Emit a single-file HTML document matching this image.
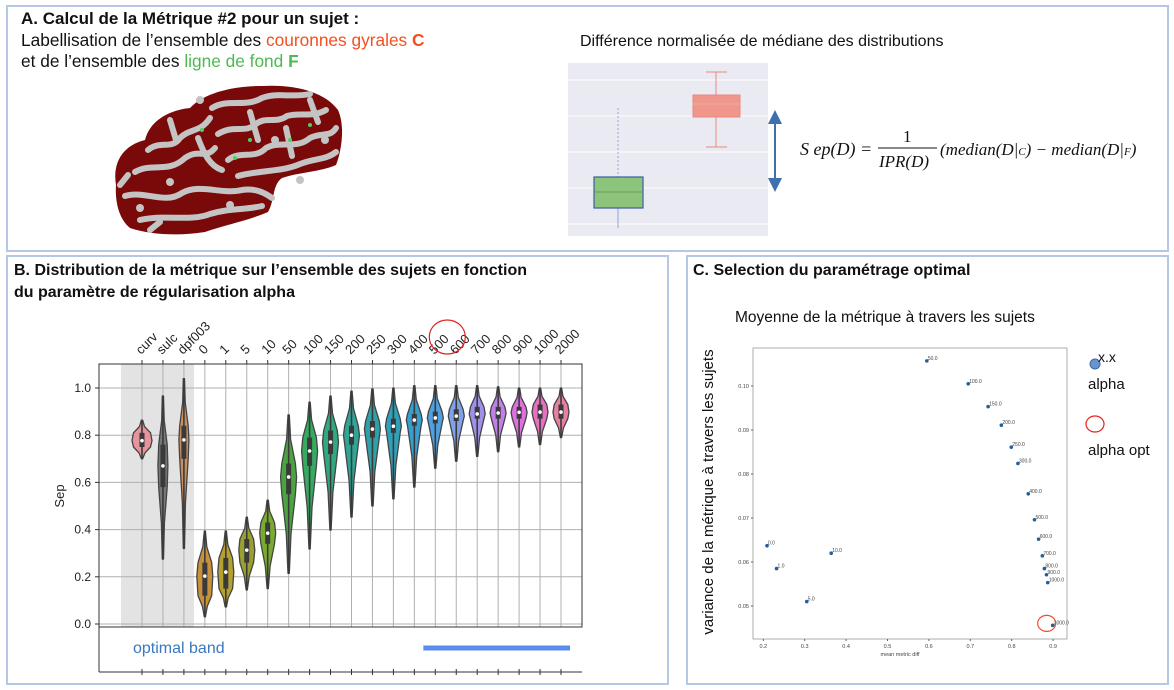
<!DOCTYPE html>
<html><head><meta charset="utf-8">
<style>
html,body{margin:0;padding:0;background:#fff;}
svg{display:block;font-family:"Liberation Sans",sans-serif;}
</style></head>
<body>
<svg id="fig" width="1174" height="690" viewBox="0 0 1174 690" xmlns="http://www.w3.org/2000/svg">
  <rect x="7" y="6" width="1161" height="245" fill="none" stroke="#b4c7e7" stroke-width="2"/>
  <rect x="7" y="256" width="661" height="428" fill="none" stroke="#b4c7e7" stroke-width="2"/>
  <rect x="687" y="256" width="481" height="428" fill="none" stroke="#b4c7e7" stroke-width="2"/>

  <text x="21" y="24" font-size="17" font-weight="bold" fill="#111">A. Calcul de la Métrique #2 pour un sujet :</text>
  <text x="21" y="46" font-size="17.3" fill="#111">Labellisation de l’ensemble des <tspan fill="#f4501e">couronnes gyrales </tspan><tspan fill="#f4501e" font-weight="bold">C</tspan></text>
  <text x="21" y="67" font-size="17.3" fill="#111">et de l’ensemble des <tspan fill="#4cba50">ligne de fond </tspan><tspan fill="#4cba50" font-weight="bold">F</tspan></text>

  <g>
    <path d="M116,185 C112,160 125,145 145,140 C150,120 170,110 190,108 C205,92 235,86 262,86 C295,84 325,92 338,110 C345,125 342,150 336,165 C320,172 300,172 282,178 C272,185 275,200 268,212 C250,220 225,225 205,232 C180,236 150,235 130,228 C118,218 115,200 116,185 Z" fill="#7a0a0a"/>
    <g stroke="#c4c4c4" stroke-width="6" fill="none" stroke-linecap="round">
      <path d="M148,150 C160,140 172,150 180,138 C190,128 200,133 210,118"/>
      <path d="M135,172 C152,162 168,174 185,158 C200,148 205,160 215,148"/>
      <path d="M125,196 C145,190 165,205 182,193 C200,183 222,195 242,190 C256,188 265,193 272,198"/>
      <path d="M140,220 C165,214 190,222 210,214 C230,208 245,210 262,206"/>
      <path d="M212,108 C228,98 245,108 262,98 C277,92 292,98 310,94"/>
      <path d="M218,134 C234,124 245,134 256,124 C266,116 276,124 287,116 C300,112 312,118 326,110"/>
      <path d="M228,160 C240,150 255,160 266,148 C281,140 296,150 310,138 C321,132 330,138 336,128"/>
      <path d="M238,176 C260,170 282,172 300,164 C315,158 326,160 336,152"/>
      <path d="M198,138 C204,154 210,166 222,170"/>
      <path d="M286,128 L292,156 M250,112 L258,140 M310,100 L318,122 M170,120 L176,140"/>
      <path d="M120,185 L128,175 M150,230 L160,222"/>
    </g>
    <g fill="#c4c4c4">
      <circle cx="140" cy="208" r="4"/><circle cx="170" cy="182" r="4"/><circle cx="230" cy="205" r="4"/><circle cx="300" cy="180" r="4"/><circle cx="325" cy="140" r="4"/><circle cx="200" cy="100" r="4"/><circle cx="275" cy="140" r="4"/>
    </g>
    <g fill="#4cd060">
      <circle cx="202" cy="130" r="2"/><circle cx="250" cy="140" r="2"/><circle cx="290" cy="140" r="2"/><circle cx="235" cy="158" r="2"/><circle cx="310" cy="125" r="2"/>
    </g>
  </g>

  <text x="580" y="46" font-size="16" fill="#111">Différence normalisée de médiane des distributions</text>
  <g>
    <rect x="568" y="63" width="200" height="173" fill="#eaeaf2"/>
    <g stroke="#ffffff" stroke-width="1">
      <line x1="568" y1="80" x2="768" y2="80"/><line x1="568" y1="116" x2="768" y2="116"/><line x1="568" y1="152" x2="768" y2="152"/><line x1="568" y1="188" x2="768" y2="188"/><line x1="568" y1="224" x2="768" y2="224"/>
    </g>
    <line x1="618" y1="108" x2="618" y2="177" stroke="#8fa8d8" stroke-dasharray="2,2"/>
    <line x1="618" y1="208" x2="618" y2="228" stroke="#8fa8d8"/>
    <rect x="594" y="177" width="49" height="31" fill="#8dc47c" stroke="#3a5fa0" stroke-width="1.2"/>
    <line x1="594" y1="192" x2="643" y2="192" stroke="#6a9a5c"/>
    <line x1="716" y1="72" x2="716" y2="95" stroke="#e88a80"/>
    <line x1="716" y1="117" x2="716" y2="147" stroke="#e88a80"/>
    <line x1="706" y1="72" x2="727" y2="72" stroke="#e88a80"/>
    <line x1="706" y1="147" x2="727" y2="147" stroke="#e88a80"/>
    <rect x="693" y="95" width="47" height="22" fill="#f0968a" stroke="#e88a80"/>
    <line x1="693" y1="104" x2="740" y2="104" stroke="#e8b0a0"/>
  </g>
  <g>
    <line x1="775" y1="122" x2="775" y2="180" stroke="#3e6fae" stroke-width="2"/>
    <polygon points="768,124 782,124 775,110" fill="#3e6fae"/>
    <polygon points="768,178 782,178 775,192" fill="#3e6fae"/>
  </g>
  <g font-family="Liberation Serif,serif" font-style="italic" fill="#111">
    <text x="800" y="155" font-size="18">S ep(D) =</text>
    <text x="903" y="142" font-size="17" font-style="normal">1</text>
    <line x1="878" y1="148" x2="937" y2="148" stroke="#111" stroke-width="1"/>
    <text x="879" y="167" font-size="17">IPR(D)</text>
    <text x="940" y="155" font-size="17">(median(D|<tspan font-size="11">C</tspan>) − median(D|<tspan font-size="11">F</tspan>)</text>
  </g>

  <text x="14" y="275" font-size="16" font-weight="bold" fill="#111">B. Distribution de la métrique sur l’ensemble des sujets en fonction</text>
  <text x="14" y="297" font-size="16" font-weight="bold" fill="#111">du paramètre de régularisation alpha</text>
  <g id="violinChart"></g>

  <text x="693" y="275" font-size="16" font-weight="bold" fill="#111">C. Selection du paramétrage optimal</text>
  <text x="735" y="322" font-size="15.5" fill="#111">Moyenne de la métrique à travers les sujets</text>
  <text transform="translate(713,492) rotate(-90)" text-anchor="middle" font-size="15" fill="#111">variance de la métrique à travers les sujets</text>
  <g id="scatterChart"></g>
  <g>
    <circle cx="1095" cy="364" r="5" fill="#6b93cf" stroke="#3d6aa8"/>
    <text x="1098" y="362" font-size="14" fill="#111">x.x</text>
    <text x="1088" y="389" font-size="15" fill="#111">alpha</text>
    <ellipse cx="1095" cy="424" rx="9" ry="8" fill="none" stroke="#e82020" stroke-width="1.2"/>
    <text x="1088" y="455" font-size="15" fill="#111">alpha opt</text>
  </g>
</svg>
<script>
const cats = ['curv','sulc','dpf003','0','1','5','10','50','100','150','200','250','300','400','500','600','700','800','900','1000','2000'];
const medians = [0.777,0.67,0.78,0.203,0.22,0.313,0.385,0.623,0.733,0.771,0.80,0.826,0.838,0.864,0.873,0.881,0.89,0.894,0.897,0.898,0.898];
const mins = [0.70,0.275,0.32,0.03,0.072,0.144,0.15,0.215,0.318,0.398,0.453,0.50,0.53,0.58,0.66,0.69,0.71,0.73,0.75,0.76,0.79];
const maxs = [0.864,0.966,1.04,0.394,0.394,0.453,0.525,0.886,0.94,0.966,0.987,0.996,1.0,1.01,1.01,1.01,1.01,1.005,1.0,1.0,1.0];
const q1s = [0.75,0.58,0.70,0.12,0.15,0.26,0.34,0.55,0.67,0.72,0.76,0.79,0.81,0.84,0.85,0.86,0.87,0.87,0.87,0.87,0.87];
const q3s = [0.81,0.76,0.84,0.26,0.28,0.36,0.43,0.68,0.79,0.82,0.84,0.86,0.87,0.89,0.90,0.91,0.92,0.92,0.92,0.93,0.93];
const vColors = ['#e8939c','#777777','#c89060','#c8913a','#b5a030','#9aa030','#7aab30','#4aa540','#35aa60','#30a880','#30a595','#30a0a8','#30a0b8','#35a0d0','#50a0e0','#80a0e8','#a090e8','#c080e8','#e070e0','#e870c0','#e880a0'];
const yTicks = [0.0,0.2,0.4,0.6,0.8,1.0];

const alphaLabels = ['0.0','1.0','5.0','10.0','50.0','100.0','150.0','200.0','250.0','300.0','400.0','500.0','600.0','700.0','800.0','900.0','1000.0','2000.0'];
const meanDiff = [0.209,0.232,0.305,0.364,0.595,0.695,0.743,0.775,0.799,0.815,0.840,0.855,0.865,0.874,0.879,0.884,0.887,0.899];
const varDiff = [0.0637,0.0585,0.0510,0.0620,0.1057,0.1005,0.0953,0.0911,0.0861,0.0824,0.0755,0.0696,0.0652,0.0614,0.0585,0.0571,0.0553,0.0456];
const sxTicks = [0.2,0.3,0.4,0.5,0.6,0.7,0.8,0.9];
const syTicks = [0.05,0.06,0.07,0.08,0.09,0.10];
const optIndex = 17;

const NS = 'http://www.w3.org/2000/svg';
function mk(parent, tag, attrs, text){
  const e = document.createElementNS(NS, tag);
  for (const k in attrs) e.setAttribute(k, attrs[k]);
  if (text !== undefined) e.textContent = text;
  parent.appendChild(e);
  return e;
}

(function(){
  const g = document.getElementById('violinChart');
  const L = 99, R = 582, T = 364, B = 627;
  const xc = i => 142 + i * 20.95;
  const yv = v => 624 - v * 236;

  let el = mk(g, 'rect', {x:121, y:T, width:73, height:B-T, fill:'#e3e3e3'});
  
  

  yTicks.forEach(t => {
    const y = yv(t);
    let ln = mk(g, 'line', {x1:L, x2:R, y1:y, y2:y, stroke:'#b0b0b0', 'stroke-width':1});
    
    
    mk(g, 'line', {x1:L-4, x2:L, y1:y, y2:y, stroke:'#333'});
    let tx = mk(g, 'text', {x:L-8, y:y+4, 'font-size':12, 'text-anchor':'end', fill:'#222'}, t.toFixed(1));
    
    
  });
  cats.forEach((c, i) => {
    const x = xc(i);
    let ln = mk(g, 'line', {x1:x, x2:x, y1:T, y2:B, stroke:'#b0b0b0', 'stroke-width':1});
    
    
    mk(g, 'line', {x1:x, x2:x, y1:T-4, y2:T, stroke:'#333'});
    mk(g, 'line', {x1:x, x2:x, y1:669, y2:675, stroke:'#333'});
    let tx = mk(g, 'text', {x:0, y:0, 'font-size':13, fill:'#222', transform:`translate(${x-1},${T-9}) rotate(-45)`}, c);
    
    
  });
  mk(g, 'rect', {x:L, y:T, width:R-L, height:B-T, fill:'none', stroke:'#333', 'stroke-width':1});

  cats.forEach((c, i) => {
    const x = xc(i);
    const W = i === 0 ? 10 : (i < 3 ? 5 : 8);
    const pts = [
      [maxs[i], 0.6], [(maxs[i]+q3s[i])/2, W*0.25], [q3s[i], W*0.85], [medians[i], W], [q1s[i], W*0.85],
      [(q1s[i]+mins[i])/2, W*0.3], [mins[i], 0.6]
    ];
    let d = '';
    pts.forEach((p, k) => { d += (k ? 'L' : 'M') + (x + p[1]).toFixed(1) + ',' + yv(p[0]).toFixed(1); });
    for (let k = pts.length - 1; k >= 0; k--) d += 'L' + (x - pts[k][1]).toFixed(1) + ',' + yv(pts[k][0]).toFixed(1);
    d += 'Z';
    let v = mk(g, 'path', {d:d, fill:vColors[i], stroke:'#444', 'stroke-width':1.3, 'stroke-linejoin':'round'});
    
    
    mk(g, 'line', {x1:x, x2:x, y1:yv(maxs[i]), y2:yv(mins[i]), stroke:'#3a3a3a', 'stroke-width':1.6});
    let bx = mk(g, 'rect', {x:x-2.5, y:yv(q3s[i]), width:5, height:yv(q1s[i])-yv(q3s[i]), fill:'#3a3a3a'});
    
    
    let m = mk(g, 'circle', {cx:x, cy:yv(medians[i]), r:1.8, fill:'#fff'});
    
    
  });

  let sl = mk(g, 'text', {transform:'translate(64,496) rotate(-90)', 'font-size':13, 'text-anchor':'middle', fill:'#222'}, 'Sep');
  
  

  mk(g, 'line', {x1:L, x2:L, y1:B, y2:672, stroke:'#333'});
  mk(g, 'line', {x1:L, x2:R, y1:672, y2:672, stroke:'#333'});
  let ob = mk(g, 'text', {x:133, y:653, 'font-size':16, fill:'#3a78c0'}, 'optimal band');
  
  
  let bar = mk(g, 'line', {x1:xc(13)+9, x2:xc(20)+9, y1:648, y2:648, stroke:'#5b8def', 'stroke-width':5});
  
  
  let oc = mk(g, 'ellipse', {cx:xc(14)+12, cy:337, rx:18, ry:17, fill:'none', stroke:'#e02020', 'stroke-width':1.2});
  
  
})();

(function(){
  const g = document.getElementById('scatterChart');
  const L = 753, R = 1067, T = 348, B = 639;
  const sx = v => 763.3 + (v - 0.2) * 414;
  const sy = v => 386 + (0.10 - v) * 4400;
  let fr = mk(g, 'rect', {x:L, y:T, width:R-L, height:B-T, fill:'#fff', stroke:'#999', 'stroke-width':0.8});
  
  
  sxTicks.forEach(t => {
    const x = sx(t);
    mk(g, 'line', {x1:x, x2:x, y1:B, y2:B+2, stroke:'#666'});
    let tx = mk(g, 'text', {x:x, y:B+9, 'font-size':5.5, 'text-anchor':'middle', fill:'#444'}, t.toFixed(1));
    
    
  });
  syTicks.forEach(t => {
    const y = sy(t);
    mk(g, 'line', {x1:L-2, x2:L, y1:y, y2:y, stroke:'#666'});
    let tx = mk(g, 'text', {x:L-4, y:y+2, 'font-size':5.5, 'text-anchor':'end', fill:'#444'}, t.toFixed(2));
    
    
  });
  let xl = mk(g, 'text', {x:(L+R)/2 - 10, y:B+17, 'font-size':5.5, 'text-anchor':'middle', fill:'#444'}, 'mean metric diff');
  
  
  meanDiff.forEach((m, i) => {
    const x = sx(m), y = sy(varDiff[i]);
    let p = mk(g, 'circle', {cx:x, cy:y, r:1.8, fill:'#1f5fa0'});
    
    
    let lb = mk(g, 'text', {x:x+1, y:y-1, 'font-size':5, fill:'#444'}, alphaLabels[i]);
    
    
  });
  let oc = mk(g, 'ellipse', {cx:sx(meanDiff[optIndex]) - 6, cy:sy(varDiff[optIndex]) - 2, rx:9, ry:8, fill:'none', stroke:'#f05020', 'stroke-width':1.2});
  
  
})();
</script>
</body></html>
